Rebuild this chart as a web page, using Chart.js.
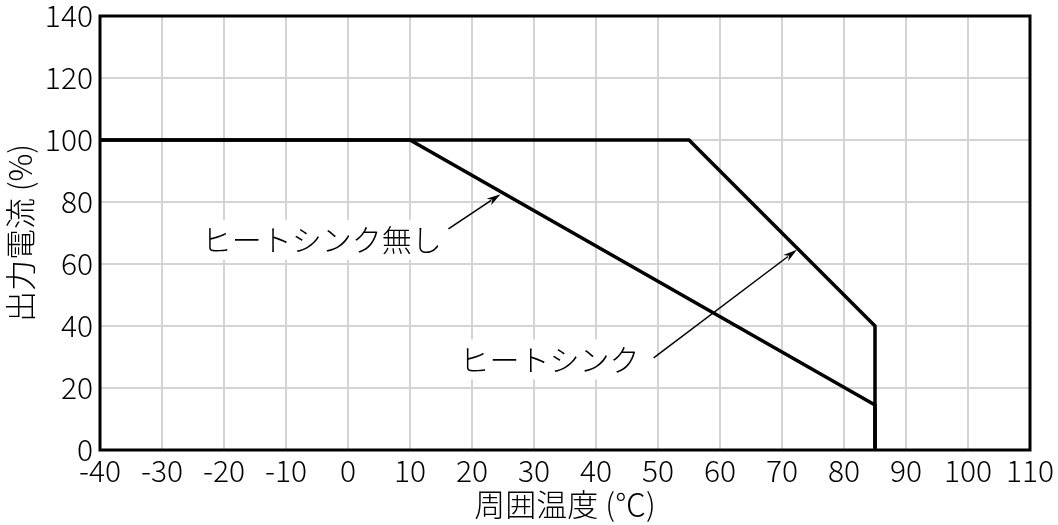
<!DOCTYPE html>
<html>
<head>
<meta charset="utf-8">
<script src="https://cdn.jsdelivr.net/npm/chart.js@4/dist/chart.umd.min.js"></script>
<style>
html,body{margin:0;padding:0;background:#fff;}
#wrap{width:1058px;height:525px;position:relative;}
</style>
</head>
<body>
<div id="wrap"><canvas id="c"></canvas></div>
<script>
// Data
const heatSinkX = [-40, 55, 85, 85];
const heatSinkY = [100, 100, 40, 0];
const noSinkX = [-40, 10, 85, 85];
const noSinkY = [100, 100, 14.5, 0];
const xTicks = [-40,-30,-20,-10,0,10,20,30,40,50,60,70,80,90,100,110];
const yTicks = [0,20,40,60,80,100,120,140];
const xTitle = '周囲温度 (℃)';
const yTitle = '出力電流 (%)';
// Annotation labels: text, anchor (data), arrow tail, arrow tip (data)
const labelTexts = ['ヒートシンク無し', 'ヒートシンク'];
const labelAnchorX = [-23.6, 18.0];
const labelAnchorY = [67.8, 29.2];
const arrowFromX = [16.2, 49.3];
const arrowFromY = [71.3, 29.7];
const arrowToX = [24.6, 72.4];
const arrowToY = [82.5, 64.6];

const FONT = '"Noto Sans CJK JP", "Noto Sans", sans-serif';

const toPts = (xs, ys) => xs.map((x, i) => ({x: x, y: ys[i]}));

const framePlugin = {
  id: 'frame',
  afterDatasetsDraw(chart) {
    const {ctx, chartArea: a, scales} = chart;
    ctx.save();
    // annotations
    ctx.font = '300 30px ' + FONT;
    ctx.textBaseline = 'middle';
    ctx.textAlign = 'left';
    for (let i = 0; i < labelTexts.length; i++) {
      const tx = scales.x.getPixelForValue(labelAnchorX[i]);
      const ty = scales.y.getPixelForValue(labelAnchorY[i]);
      const w = ctx.measureText(labelTexts[i]).width;
      ctx.fillStyle = '#fff';
      ctx.fillRect(tx - 4, ty - 20, w + 8, 40);
      ctx.fillStyle = '#000';
      ctx.fillText(labelTexts[i], tx, ty);
      // arrow
      const x1 = scales.x.getPixelForValue(arrowFromX[i]);
      const y1 = scales.y.getPixelForValue(arrowFromY[i]);
      const x2 = scales.x.getPixelForValue(arrowToX[i]);
      const y2 = scales.y.getPixelForValue(arrowToY[i]);
      const ang = Math.atan2(y2 - y1, x2 - x1);
      const hl = 14, hw = 4;
      ctx.strokeStyle = '#000';
      ctx.lineWidth = 1.5;
      ctx.beginPath();
      ctx.moveTo(x1, y1);
      ctx.lineTo(x2 - Math.cos(ang) * hl * 0.8, y2 - Math.sin(ang) * hl * 0.8);
      ctx.stroke();
      ctx.beginPath();
      ctx.moveTo(x2, y2);
      ctx.lineTo(x2 - Math.cos(ang) * hl - Math.sin(ang) * hw, y2 - Math.sin(ang) * hl + Math.cos(ang) * hw);
      ctx.lineTo(x2 - Math.cos(ang) * hl * 0.7, y2 - Math.sin(ang) * hl * 0.7);
      ctx.lineTo(x2 - Math.cos(ang) * hl + Math.sin(ang) * hw, y2 - Math.sin(ang) * hl - Math.cos(ang) * hw);
      ctx.closePath();
      ctx.fillStyle = '#000';
      ctx.fill();
    }
    // frame
    ctx.strokeStyle = '#000';
    ctx.lineWidth = 3;
    ctx.strokeRect(a.left, a.top, a.right - a.left, a.bottom - a.top);
    ctx.restore();
  }
};

new Chart(document.getElementById('c'), {
  type: 'scatter',
  data: {
    datasets: [
      {data: toPts(heatSinkX, heatSinkY), showLine: true, borderColor: '#000', borderWidth: 3.5, pointRadius: 0, tension: 0, fill: false},
      {data: toPts(noSinkX, noSinkY), showLine: true, borderColor: '#000', borderWidth: 3.5, pointRadius: 0, tension: 0, fill: false}
    ]
  },
  options: {
    responsive: true,
    maintainAspectRatio: false,
    animation: false,
    events: [],
    layout: {padding: {top: 16, right: 28, bottom: 0, left: 0}},
    plugins: {legend: {display: false}, tooltip: {enabled: false}},
    scales: {
      x: {
        type: 'linear', min: -40, max: 110,
        afterBuildTicks: s => { s.ticks = xTicks.map(v => ({value: v})); },
        afterFit: s => { s.height = 75; s.paddingLeft = 0; s.paddingRight = 0; },
        grid: {color: '#d4d4d4', lineWidth: 2, drawTicks: false},
        border: {display: false},
        ticks: {color: '#000', font: {family: FONT, size: 30, weight: 300}, padding: 3, maxRotation: 0, autoSkip: false},
        title: {display: true, text: xTitle, color: '#000', font: {family: FONT, size: 31, weight: 300}, padding: {top: 0, bottom: 2}}
      },
      y: {
        type: 'linear', min: 0, max: 140,
        afterBuildTicks: s => { s.ticks = yTicks.map(v => ({value: v})); },
        afterFit: s => { s.width = 100; s.paddingTop = 0; s.paddingBottom = 0; },
        grid: {color: '#d4d4d4', lineWidth: 2, drawTicks: false},
        border: {display: false},
        ticks: {color: '#000', font: {family: FONT, size: 30, weight: 300}, padding: 7},
        title: {display: true, text: yTitle, color: '#000', font: {family: FONT, size: 31, weight: 300}, padding: {top: 2, bottom: 0}}
      }
    }
  },
  plugins: [framePlugin]
});
</script>
</body>
</html>
